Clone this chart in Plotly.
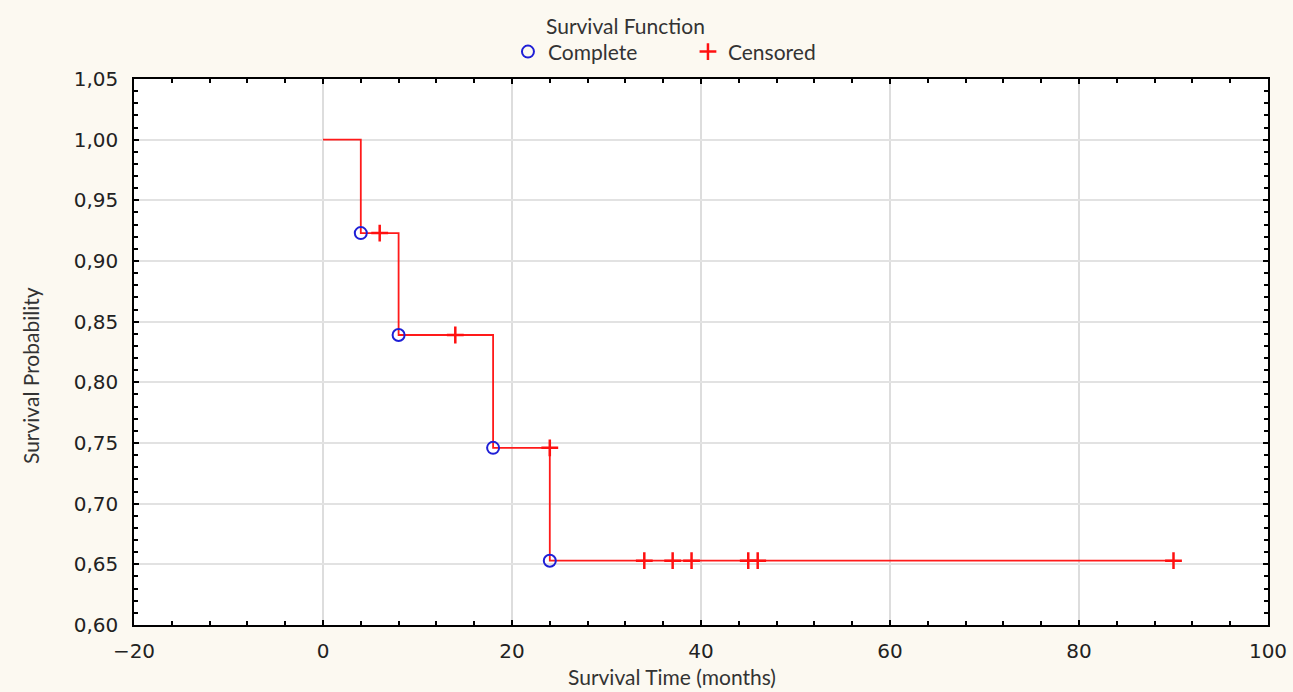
import plotly.graph_objects as go

# Kaplan-Meier step curve
step_times = [0, 4, 8, 18, 24, 90]
step_surv = [1.0, 0.923, 0.839, 0.746, 0.653, 0.653]

# Complete (event) observations
complete_times = [4, 8, 18, 24]
complete_surv = [0.923, 0.839, 0.746, 0.653]

# Censored observations
censored_times = [6, 14, 24, 34, 37, 39, 45, 46, 90]
censored_surv = [0.923, 0.839, 0.746, 0.653, 0.653, 0.653, 0.653, 0.653, 0.653]

x_ticks = [-20, 0, 20, 40, 60, 80, 100]
y_ticks = [0.60, 0.65, 0.70, 0.75, 0.80, 0.85, 0.90, 0.95, 1.00, 1.05]

fig = go.Figure()
fig.add_trace(go.Scatter(
    x=step_times, y=step_surv, mode="lines", line=dict(color="#ff1a1a", width=1.8, shape="hv"),
    showlegend=False, hoverinfo="skip"))
fig.add_trace(go.Scatter(
    x=complete_times, y=complete_surv, mode="markers", name="Complete",
    marker=dict(symbol="circle-open", size=12, color="#1f1fd6", line=dict(width=2, color="#1f1fd6"))))
fig.add_trace(go.Scatter(
    x=censored_times, y=censored_surv, mode="markers", name="Censored",
    marker=dict(symbol="cross-thin", size=12, color="#ff1010", line=dict(width=2.5, color="#ff1010"))))

bg = "#fcf9f1"
title_font = dict(family="Lato, Open Sans", size=21, color="#333333")
tick_font = dict(family="DejaVu Sans", size=20, color="#222222")
fig.update_layout(
    width=1293, height=692,
    paper_bgcolor=bg, plot_bgcolor="white",
    margin=dict(l=134, r=25, t=79, b=67, autoexpand=False),
    separators=", ",
    legend=dict(
        orientation="h", x=0.4885, xanchor="center", y=1.0495, yanchor="middle",
        bgcolor="rgba(0,0,0,0)",
        font=title_font,
        itemwidth=30, tracegroupgap=0, entrywidthmode="pixels", entrywidth=135,
    ),
    annotations=[
        dict(text="Survival Function", x=0.433, xref="paper", y=1.0989, yref="paper",
             xanchor="center", yanchor="middle", showarrow=False, font=title_font),
        dict(text="Survival Time (months)", x=0.474, xref="paper", y=-0.095, yref="paper",
             xanchor="center", yanchor="middle", showarrow=False, font=title_font),
        dict(text="Survival Probability", x=-0.0917, xref="paper", y=0.456, yref="paper",
             xanchor="center", yanchor="middle", showarrow=False, textangle=-90, font=title_font),
    ],
)
fig.update_xaxes(
    range=[-20, 100], tickvals=x_ticks, ticks="inside", ticklen=5, tickwidth=1.5, tickcolor="black",
    showline=True, linecolor="black", linewidth=1.5, mirror="ticks", automargin=False,
    showgrid=True, gridcolor="#dddddd", gridwidth=2, zeroline=False,
    minor=dict(dtick=4, tick0=0, ticks="inside", ticklen=4, tickcolor="black", showgrid=False),
    tickfont=tick_font, ticklabelstandoff=7,
)
fig.update_yaxes(
    range=[0.60, 1.05], tickvals=y_ticks, tickformat=".2f", ticks="inside", ticklen=5, tickwidth=1.5,
    tickcolor="black", showline=True, linecolor="black", linewidth=1.5, mirror="ticks", automargin=False,
    showgrid=True, gridcolor="#e2e2e2", gridwidth=1.5, zeroline=False,
    minor=dict(dtick=0.01, tick0=0.6, ticks="inside", ticklen=4, tickcolor="black", showgrid=False),
    tickfont=tick_font, ticklabelstandoff=10,
)
fig.write_html("out.html", config={"displayModeBar": False},
               post_script="document.body.style.margin='0';document.body.style.background='" + bg + "';")
